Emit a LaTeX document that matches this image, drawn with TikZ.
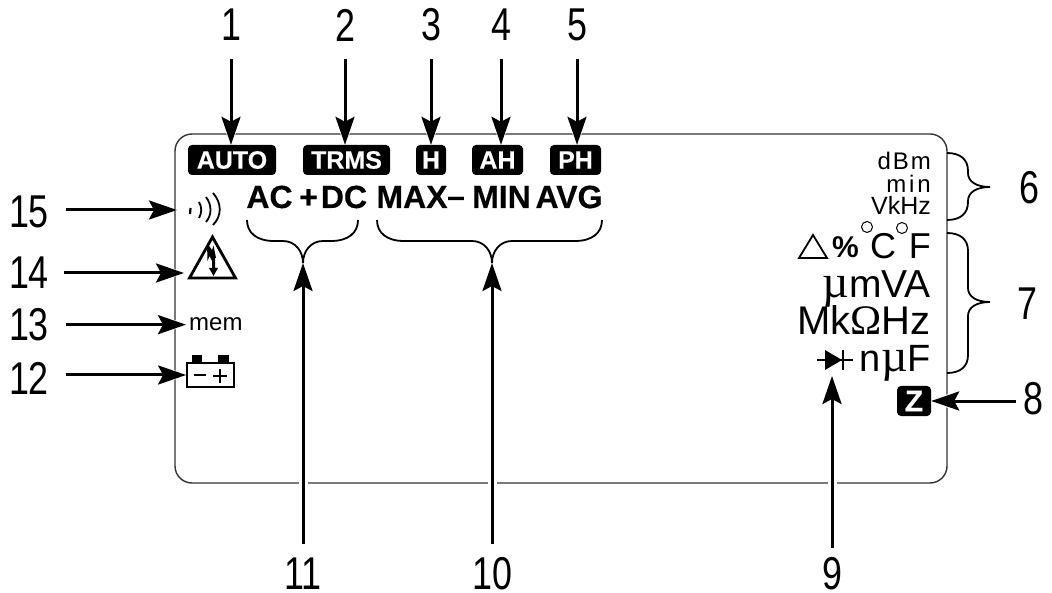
\documentclass[tikz,border=0pt]{standalone}
\usepackage{fontspec}
\usetikzlibrary{arrows.meta}
\setmainfont{Liberation Sans}
\newfontfamily\numfont[FakeStretch=0.78]{Liberation Sans}
\newfontfamily\symfont{Liberation Serif}
\newfontfamily\heavyfont[FakeBold=0.4]{Liberation Sans Bold}
\newcommand{\fsz}[1]{\fontsize{#1}{#1}\selectfont}
\newcommand{\lowbrace}[3]{\draw [bracket] (#1,220) .. controls (#1,233) and (#1+10,241) .. (#1+27,241) -- (#2-20,241) .. controls (#2-8,241) and (#2,251) .. (#2,263) .. controls (#2,251) and (#2+8,241) .. (#2+20,241) -- (#3-27,241) .. controls (#3-10,241) and (#3,233) .. (#3,220);}
\newcommand{\sidebrace}[3]{\draw [bracket] (947,#1) .. controls (961,#1) and (968,#1+7) .. (968,#1+18) -- (968,#2-14) .. controls (968,#2-5) and (977,#2) .. (990,#2) .. controls (977,#2) and (968,#2+5) .. (968,#2+14) -- (968,#3-18) .. controls (968,#3-7) and (961,#3) .. (947,#3);}
\tikzset{
    frame/.style = {draw=black!80, line width=1.4pt, rounded corners=17pt},
    number/.style = {inner sep=0pt, font=\numfont\fsz{46}},
    tag/.style = {rectangle, rounded corners=4pt, fill=black, text=white, inner sep=0pt, minimum height=30pt, font=\heavyfont\fsz{25}},
    mode/.style = {anchor=base, inner sep=0pt, font=\heavyfont\fsz{32}},
    unit/.style = {anchor=base east, inner sep=0pt, font=\fsz{36}},
    small/.style = {anchor=base east, inner sep=0pt, font=\fsz{24}},
    arrow/.style = {line width=3pt, -{Stealth[length=28pt,width=19pt,inset=5pt]},
        preaction={draw=white, line width=9pt, -{Stealth[length=31pt,width=25pt,inset=5pt]}}},
    bracket/.style = {line width=1.8pt},
    glyph/.style = {line width=1.8pt}
}
\begin{document}
\begin{tikzpicture}[x=1pt,y=-1pt]
\useasboundingbox (0,0) rectangle (1052,593);
\draw [frame] (175,134) rectangle (947,483);

\node (n1) [number] at (231,25) {1};
\node (n2) [number] at (345,25) {2};
\node (n3) [number] at (431,25) {3};
\node (n4) [number] at (501,25) {4};
\node (n5) [number] at (577,25) {5};
\node (n6) [number] at (1029,188) {6};
\node (n7) [number] at (1027,304) {7};
\node (n8) [number] at (1033,399) {8};
\node (n9) [number] at (832,574) {9};
\node (n10) [number] at (492,574) {10};
\node (n11) [number] at (303,574) {11};
\node (n12) [number] at (29,378) {12};
\node (n13) [number] at (29,325) {13};
\node (n14) [number] at (29,273) {14};
\node (n15) [number] at (29,212) {15};

\node (auto) [tag, minimum width=88pt] at (232,160) {AUTO};
\node (trms) [tag, minimum width=87pt] at (346.5,160) {TRMS};
\node (hold) [tag, minimum width=30pt] at (431,160) {H};
\node (ah) [tag, minimum width=51pt] at (497.5,160) {AH};
\node (ph) [tag, minimum width=51pt] at (575.5,160) {PH};
\node (ztag) [tag, minimum width=34pt, font=\heavyfont\fsz{30}] at (914,401) {Z};

\node (ac) [mode] at (269.5,208) {AC};
\node (plus) [mode] at (308.5,208) {+};
\node (dc) [mode] at (344,208) {DC};
\node (max) [mode] at (412,208) {MAX};
\node (dash) [mode] at (456,207) {–};
\node (min) [mode] at (501.5,208) {MIN};
\node (avg) [mode] at (569,208) {AVG};

\node (dbm) [small, font=\fsz{24}\addfontfeature{LetterSpace=8}] at (931,170) {dBm};
\node (mins) [small, font=\fsz{24}\addfontfeature{LetterSpace=12}] at (931,193) {min};
\node (vkhz) [small, font=\fsz{25}] at (931,215) {VkHz};
\node (pct) [anchor=base, inner sep=0pt, font=\bfseries\fsz{30}] at (845.5,258) {\%};
\node (degc) [anchor=base, inner sep=0pt, font=\fsz{36}] at (883,259) {C};
\node (degf) [unit] at (931,259) {F};
\node (vamp) [unit, font=\fsz{39}] at (931,298) {{\symfont\fsz{46}µ}mVA};
\node (freq) [unit, font=\fsz{40}] at (931,335) {Mk{\symfont\fsz{42}Ω}Hz};
\node (cap) [unit, font=\fsz{38}] at (931,372) {n{\symfont\fsz{46}µ}F};
\node (mem) [anchor=base west, inner sep=3pt, font=\fsz{24}] at (186,331) {mem};
\node (batt) [draw, line width=1.8pt, minimum width=47pt, minimum height=24pt, inner sep=0pt] at (210.5,375) {};

\coordinate (sound) at (177,210);
\coordinate (warn) at (184,273);
\coordinate (diode) at (832,376);
\coordinate (tip10) at (492,263);
\coordinate (tip11) at (303,263);

\draw [arrow, shorten <=18pt] (n1.south) -- (n1.south |- auto.north);
\draw [arrow, shorten <=18pt] (n2.south) -- (n2.south |- trms.north);
\draw [arrow, shorten <=18pt] (n3.south) -- (n3.south |- hold.north);
\draw [arrow, shorten <=18pt] (n4.south) -- (n4.south |- ah.north);
\draw [arrow, shorten <=18pt] (n5.south) -- (n5.south |- ph.north);
\draw [arrow, shorten <=7pt] (n8.west |- ztag.east) -- (ztag.east);
\draw [arrow, shorten <=10pt] (n9.north) -- (diode);
\draw [arrow, shorten <=14pt] (n10.north) -- (tip10);
\draw [arrow, shorten <=14pt] (n11.north) -- (tip11);
\draw [arrow, shorten <=17pt] (n12.east |- batt.west) -- (batt.west);
\draw [arrow, shorten <=17pt] (n13.east |- mem.west) -- (mem.west);
\draw [arrow, shorten <=15pt] (n14.east |- warn) -- (warn);
\draw [arrow, shorten <=17pt] (n15.east |- sound) -- (sound);

\lowbrace{247}{303}{358}
\lowbrace{377}{492}{602}
\sidebrace{153}{187}{220}
\sidebrace{233}{302}{373}

\draw [line width=2.2pt] (190.5,208) -- (190,214);
\draw [glyph] (199,202) .. controls (202,207) and (202,213) .. (199,218);
\draw [glyph] (206,197) .. controls (212,205) and (212,215) .. (206,222);
\draw [glyph] (213,193) .. controls (222,203) and (222,216) .. (213,225);
\draw [line width=2.8pt, line join=miter] (212.5,237) -- (235.5,278) -- (189.5,278) -- cycle;
\fill (207,243) -- (212,250) -- (213.5,245.5) -- (216,258) -- (215,258) -- (215,268) -- (218,268) -- (213.5,276) -- (209,268) -- (212,268) -- (212,261) -- (209.5,256) -- (207.5,261) -- cycle;
\fill (192,355) rectangle (202,363);
\fill (218,355) rectangle (229,363);
\draw [glyph, line width=2.4pt] (194,375) -- (206,375);
\draw [glyph] (213,376) -- (227,376) (220,369) -- (220,383);

\draw [glyph] (799,258) -- (813,235) -- (827,258) -- cycle;
\draw [line width=1pt] (867,227) circle (5.5);
\draw [line width=1pt] (902,228) circle (5.5);
\fill (825,350) -- (842,360) -- (825,370) -- cycle;
\draw [glyph] (817,360) -- (853,360);
\draw [line width=2pt] (843,350) -- (843,370);
\end{tikzpicture}
\end{document}
